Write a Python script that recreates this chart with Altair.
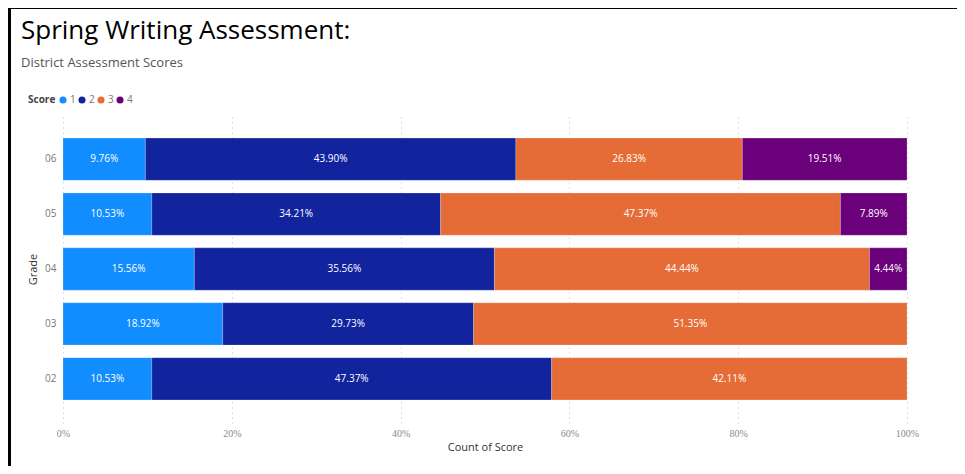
import altair as alt
import pandas as pd

grades = ["06", "05", "04", "03", "02"]
scores = ["1", "2", "3", "4"]
pct_06 = [9.76, 43.90, 26.83, 19.51]
pct_05 = [10.53, 34.21, 47.37, 7.89]
pct_04 = [15.56, 35.56, 44.44, 4.44]
pct_03 = [18.92, 29.73, 51.35, 0.0]
pct_02 = [10.53, 47.37, 42.11, 0.0]
colors = ["#118DFF", "#12239E", "#E66C37", "#6B007B"]
x_ticks = [0, 0.2, 0.4, 0.6, 0.8, 1.0]

rows = []
for g, vals in zip(grades, [pct_06, pct_05, pct_04, pct_03, pct_02]):
    total = sum(vals)
    start = 0.0
    for s, v in zip(scores, vals):
        if v <= 0:
            continue
        frac = v / total
        rows.append({
            "Grade": g, "Score": s, "share": frac,
            "mid": start + frac / 2, "label": f"{v:.2f}%",
        })
        start += frac
df = pd.DataFrame(rows)

FONT = "Open Sans"

base = alt.Chart(df)

bars = base.mark_bar(stroke="white", strokeOpacity=0.35, strokeWidth=0.6).encode(
    y=alt.Y("Grade:N", sort=grades, title="Grade",
            scale=alt.Scale(paddingInner=0.23, paddingOuter=0.42),
            axis=alt.Axis(domain=False, ticks=False, labelPadding=7,
                          labelFontSize=10, labelColor="#777777", labelFont=FONT,
                          titleFont=FONT, titleFontSize=11, titleColor="#333333",
                          titleFontWeight="normal", titlePadding=6, grid=False)),
    x=alt.X("share:Q", stack="normalize", title="Count of Score",
            scale=alt.Scale(domain=[0, 1], nice=False, zero=True),
            axis=alt.Axis(values=x_ticks, format=".0%", domain=False, ticks=False,
                          labelFlush=False,
                          labelPadding=5, labelFontSize=10, labelColor="#8a8a8a",
                          labelFont="Liberation Sans Narrow",
                          titleFont=FONT, titleFontSize=11, titleColor="#333333",
                          titleFontWeight="normal", titlePadding=3,
                          grid=True, gridDash=[1, 4], gridColor="#c0c0c0",
                          gridWidth=1)),
    color=alt.Color("Score:N", sort=scores,
                    scale=alt.Scale(domain=scores, range=colors),
                    legend=alt.Legend(orient="none", legendX=-35, legendY=-20,
                                      direction="horizontal", titleOrient="left",
                                      title="Score", titleFontWeight="bold",
                                      titleFont=FONT, titleFontSize=10,
                                      titleColor="#444444", titlePadding=2,
                                      labelFont=FONT, labelFontSize=10,
                                      labelColor="#777777", symbolType="circle",
                                      symbolSize=50, symbolStrokeWidth=0,
                                      labelOffset=2, columnPadding=1)),
    order=alt.Order("Score:N", sort="ascending"),
)

texts = base.mark_text(color="white", fontSize=10, font=FONT).encode(
    y=alt.Y("Grade:N", sort=grades),
    x=alt.X("mid:Q"),
    text="label:N",
)

border_left = alt.Chart(df).mark_rule(color="black", strokeWidth=2.5).encode(
    x=alt.value(-54), y=alt.value(-107), y2=alt.value(351))
border_top = alt.Chart(df).mark_rule(color="black", strokeWidth=2).encode(
    x=alt.value(-55), x2=alt.value(894), y=alt.value(-107))

chart = alt.layer(bars, texts, border_left, border_top).properties(
    width=844, height=308,
    autosize=alt.AutoSizeParams(type="none"),
    padding={"left": 55, "top": 107, "right": 50, "bottom": 43},
    background="white",
    title=alt.TitleParams(
        text="Spring Writing Assessment:",
        subtitle="District Assessment Scores",
        anchor="start", frame="group", dx=-42, orient="top",
        font=FONT, fontSize=26, fontWeight="normal", color="#000000",
        subtitleFont=FONT, subtitleFontSize=13, subtitleColor="#555555",
        subtitlePadding=13, offset=-63,
    ),
).configure_view(strokeWidth=0, stroke="transparent")

chart.save("out.html", embed_options={"renderer": "svg", "actions": False})
